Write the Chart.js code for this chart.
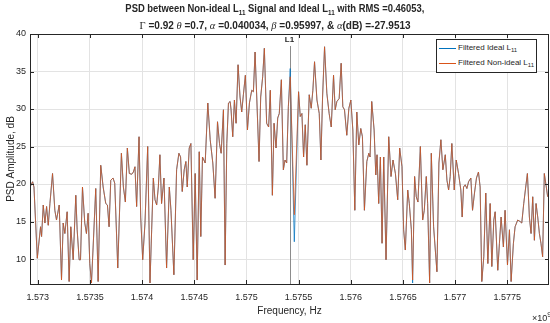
<!DOCTYPE html>
<html>
<head>
<meta charset="utf-8">
<script src="https://cdn.jsdelivr.net/npm/chart.js@4.4.0/dist/chart.umd.min.js"></script>
<style>
  body { margin: 0; background: #fff; }
  #page { position: relative; width: 550px; height: 323px; overflow: hidden;
          font-family: "Liberation Sans", Arial, sans-serif; color: #262626; }
  #psdChart { position: absolute; left: 0; top: 0; }
  .title { position: absolute; left: 0; width: 550px; text-align: center;
           font-weight: bold; font-size: 10.5px; line-height: 13px; white-space: nowrap; }
  .title span.fit { display: inline-block; transform-origin: center; }
  .title sub { font-size: 7px; vertical-align: -3px; line-height: 0; }
  .gk { font-family: "Liberation Serif", "DejaVu Serif", serif; font-weight: normal; font-size: 11px; }
  #legend { position: absolute; left: 436px; top: 39px; width: 99px; height: 32px;
            border: 1px solid #262626; background: #fff; font-size: 8px; }
  #legend .row { position: absolute; left: 2px; height: 12px; white-space: nowrap; }
  #legend .swatch { position: absolute; left: 0; top: 6px; width: 17px; height: 1px; }
  #legend .txt { position: absolute; left: 19px; top: 0; line-height: 12px; }
  #legend sub { font-size: 6px; vertical-align: -2px; line-height: 0; }
  #expo { position: absolute; left: 532px; top: 313px; font-size: 9px; white-space: nowrap; }
  #expo sup { font-size: 7px; vertical-align: 4px; line-height: 0; }
</style>
</head>
<body>
<div id="page">
  <canvas id="psdChart" width="550" height="323"></canvas>
  <div class="title" style="top:2px"><span class="fit" data-w="299">PSD between Non-ideal L<sub>11</sub> Signal and Ideal L<sub>11</sub> with RMS =0.46053,</span></div>
  <div class="title" style="top:19px"><span class="fit" data-w="271"><span class="gk">&Gamma;</span> =0.92 <i class="gk">&theta;</i> =0.7, <i class="gk">&alpha;</i> =0.040034, <i class="gk">&beta;</i> =0.95997, &amp; <i class="gk">&alpha;</i>(dB) =-27.9513</span></div>
  <div id="legend">
    <div class="row" style="top:2px"><div class="swatch" style="background:#0072BD"></div><div class="txt">Filtered Ideal L<sub>11</sub></div></div>
    <div class="row" style="top:17px"><div class="swatch" style="background:#D95319"></div><div class="txt">Filtered Non-ideal L<sub>11</sub></div></div>
  </div>
  <div id="expo">&times;10<sup>9</sup></div>
</div>
<script>
// frequency in MHz, PSD in dB
const freqMHz = [
  1572.926, 1572.951, 1572.964, 1572.996, 1573.027, 1573.037, 1573.053, 1573.069, 1573.085, 1573.101,
  1573.117, 1573.142, 1573.164, 1573.180, 1573.206, 1573.228, 1573.244, 1573.260, 1573.282, 1573.301,
  1573.317, 1573.340, 1573.365, 1573.378, 1573.397, 1573.410, 1573.429, 1573.451, 1573.467, 1573.483,
  1573.499, 1573.515, 1573.531, 1573.556, 1573.579, 1573.604, 1573.627, 1573.652, 1573.668, 1573.684,
  1573.700, 1573.722, 1573.738, 1573.767, 1573.802, 1573.821, 1573.840, 1573.859, 1573.878, 1573.901,
  1573.917, 1573.932, 1573.948, 1573.971, 1573.987, 1574.006, 1574.028, 1574.054, 1574.076, 1574.092,
  1574.108, 1574.124, 1574.140, 1574.156, 1574.171, 1574.187, 1574.210, 1574.235, 1574.261, 1574.277,
  1574.305, 1574.331, 1574.353, 1574.369, 1574.385, 1574.404, 1574.420, 1574.433, 1574.452, 1574.468,
  1574.490, 1574.509, 1574.528, 1574.548, 1574.563, 1574.579, 1574.605, 1574.630, 1574.653, 1574.678,
  1574.700, 1574.723, 1574.742, 1574.758, 1574.780, 1574.796, 1574.812, 1574.828, 1574.844, 1574.853,
  1574.869, 1574.885, 1574.901, 1574.920, 1574.939, 1574.955, 1574.971, 1574.990, 1575.010, 1575.029,
  1575.051, 1575.067, 1575.083, 1575.099, 1575.121, 1575.137, 1575.156, 1575.172, 1575.194, 1575.213,
  1575.229, 1575.249, 1575.265, 1575.284, 1575.300, 1575.315, 1575.335, 1575.354, 1575.370, 1575.386,
  1575.402, 1575.420, 1575.459, 1575.500, 1575.516, 1575.532, 1575.548, 1575.564, 1575.580, 1575.602,
  1575.621, 1575.637, 1575.653, 1575.676, 1575.698, 1575.714, 1575.730, 1575.749, 1575.771, 1575.793,
  1575.813, 1575.835, 1575.851, 1575.867, 1575.889, 1575.908, 1575.924, 1575.940, 1575.962, 1575.982,
  1576.001, 1576.020, 1576.039, 1576.058, 1576.077, 1576.096, 1576.112, 1576.131, 1576.154, 1576.173,
  1576.185, 1576.201, 1576.224, 1576.240, 1576.252, 1576.268, 1576.284, 1576.300, 1576.316, 1576.338,
  1576.364, 1576.386, 1576.405, 1576.428, 1576.450, 1576.469, 1576.491, 1576.507, 1576.523, 1576.546,
  1576.561, 1576.581, 1576.593, 1576.612, 1576.628, 1576.644, 1576.667, 1576.689, 1576.705, 1576.724,
  1576.737, 1576.756, 1576.772, 1576.794, 1576.826, 1576.845, 1576.864, 1576.883, 1576.906, 1576.922,
  1576.938, 1576.953, 1576.969, 1576.992, 1577.011, 1577.033, 1577.055, 1577.068, 1577.081, 1577.097,
  1577.113, 1577.129, 1577.151, 1577.167, 1577.186, 1577.205, 1577.224, 1577.240, 1577.256, 1577.275,
  1577.294, 1577.314, 1577.336, 1577.352, 1577.371, 1577.384, 1577.409, 1577.425, 1577.441, 1577.463,
  1577.479, 1577.502, 1577.521, 1577.537, 1577.559, 1577.575, 1577.600, 1577.623, 1577.639, 1577.658,
  1577.677, 1577.693, 1577.712, 1577.728, 1577.744, 1577.760, 1577.776, 1577.792, 1577.808, 1577.823,
  1577.839, 1577.855, 1577.874, 1577.887
];

const nonIdealDb = [
  19.6, 20.3, 19.6, 10.1, 14.3, 13.0, 17.2, 14.8, 17.0, 14.5,
  17.4, 21.4, 16.5, 15.2, 17.2, 7.2, 14.8, 13.4, 16.3, 7.0,
  14.3, 9.9, 18.5, 13.9, 9.9, 9.9, 19.6, 14.8, 13.4, 16.1,
  9.4, 6.8, 11.6, 19.4, 7.0, 22.5, 19.6, 17.4, 17.2, 14.3,
  20.5, 20.8, 20.1, 8.8, 24.1, 19.6, 17.6, 24.8, 21.4, 21.3,
  21.6, 22.3, 17.0, 26.3, 15.6, 9.9, 14.8, 25.0, 6.8, 13.9,
  20.8, 17.9, 17.2, 19.6, 23.9, 17.4, 20.8, 8.8, 19.6, 16.5,
  7.9, 21.9, 24.1, 23.6, 19.0, 21.9, 23.0, 19.6, 24.8, 25.4,
  9.9, 21.4, 7.2, 24.3, 13.0, 23.6, 22.8, 30.8, 25.9, 22.8,
  18.1, 28.3, 25.4, 24.1, 29.9, 9.2, 25.4, 30.8, 31.0, 29.9,
  26.3, 31.2, 28.1, 35.9, 31.6, 29.6, 31.9, 34.5, 27.2, 30.8,
  32.5, 32.3, 37.6, 31.6, 23.0, 31.6, 34.3, 38.1, 28.1, 27.6,
  32.5, 18.5, 28.1, 24.8, 28.8, 29.4, 33.9, 21.9, 23.2, 22.8,
  30.3, 34.3, 15.9, 32.3, 29.0, 29.4, 23.6, 27.9, 22.5, 31.9,
  30.1, 32.5, 36.3, 31.2, 29.4, 23.2, 31.6, 38.3, 32.1, 29.4,
  27.6, 34.5, 29.9, 31.0, 31.4, 36.1, 30.3, 29.9, 26.5, 30.1,
  31.2, 27.2, 16.5, 29.6, 25.2, 27.4, 26.3, 16.5, 23.0, 24.1,
  23.6, 31.0, 27.2, 21.2, 23.9, 17.4, 23.6, 12.1, 23.6, 9.9,
  26.3, 21.0, 23.2, 21.4, 17.9, 24.8, 22.3, 13.9, 11.2, 19.2,
  17.4, 13.9, 7.2, 21.0, 18.3, 17.6, 25.0, 15.2, 16.5, 21.0,
  17.4, 6.8, 24.1, 14.3, 8.3, 22.8, 25.9, 21.9, 23.9, 20.5,
  19.2, 21.0, 25.4, 19.2, 23.2, 21.4, 19.2, 15.6, 19.6, 19.9,
  19.4, 20.3, 20.8, 16.5, 18.8, 20.8, 21.6, 19.6, 7.0, 10.3,
  18.8, 9.4, 17.4, 9.0, 15.2, 16.3, 8.5, 12.1, 15.6, 11.6,
  16.5, 9.2, 13.9, 7.0, 12.1, 14.3, 15.2, 15.0, 14.8, 17.4,
  19.6, 21.4, 15.6, 13.4, 18.3, 12.5, 17.4, 15.6, 13.4, 12.1,
  10.3, 21.4, 19.6, 18.3
];

const idealDb = [
  19.6, 20.3, 19.6, 10.1, 14.3, 13.0, 17.2, 14.8, 17.0, 14.5,
  17.4, 21.4, 16.5, 15.2, 17.2, 7.2, 14.8, 13.4, 16.3, 7.0,
  14.3, 9.9, 18.5, 13.9, 9.9, 9.9, 19.6, 14.8, 13.4, 16.1,
  9.4, 6.8, 11.6, 19.4, 7.0, 22.5, 19.6, 17.4, 17.2, 14.3,
  20.5, 20.8, 20.1, 8.8, 24.1, 19.6, 17.6, 24.8, 21.4, 21.3,
  21.6, 22.3, 17.0, 26.3, 15.6, 9.9, 14.8, 25.0, 6.8, 13.9,
  20.8, 17.9, 17.2, 19.6, 23.9, 17.4, 20.8, 8.8, 19.6, 16.5,
  7.9, 21.9, 24.1, 23.6, 19.0, 21.9, 23.0, 19.6, 24.8, 25.4,
  9.9, 21.4, 7.2, 24.3, 13.0, 23.6, 22.8, 30.8, 25.9, 22.8,
  18.1, 28.3, 25.4, 24.1, 29.9, 9.2, 25.4, 30.8, 31.0, 29.9,
  26.3, 31.2, 28.1, 35.9, 31.6, 29.6, 31.9, 34.5, 27.2, 30.8,
  32.5, 32.3, 37.6, 31.6, 23.0, 31.6, 34.3, 38.1, 28.1, 27.6,
  32.5, 18.5, 28.1, 24.8, 28.8, 29.4, 33.9, 21.9, 23.2, 22.8,
  30.3, 35.4, 12.3, 32.3, 29.0, 29.4, 23.6, 27.9, 22.5, 31.9,
  30.1, 32.5, 36.3, 31.2, 29.4, 23.2, 31.6, 38.3, 32.1, 29.4,
  27.6, 34.5, 29.9, 31.0, 31.4, 36.1, 30.3, 29.9, 26.5, 30.1,
  31.2, 27.2, 16.5, 29.6, 25.2, 27.4, 26.3, 16.5, 23.0, 24.1,
  23.6, 31.0, 27.2, 21.2, 23.9, 17.4, 23.6, 12.1, 23.6, 9.9,
  26.3, 21.0, 23.2, 21.4, 17.9, 24.8, 22.3, 13.9, 11.2, 19.2,
  17.4, 13.9, 6.8, 21.0, 18.3, 17.6, 25.0, 15.2, 16.5, 21.0,
  17.4, 6.8, 24.1, 14.3, 8.3, 22.8, 25.9, 21.9, 23.9, 20.5,
  19.2, 21.0, 25.4, 19.2, 23.2, 21.4, 19.2, 15.6, 19.6, 19.9,
  19.4, 20.3, 20.8, 16.5, 18.8, 20.8, 21.6, 19.6, 7.0, 10.3,
  18.8, 9.4, 17.4, 9.0, 15.2, 16.3, 8.5, 12.1, 15.6, 11.6,
  16.5, 9.2, 13.9, 7.0, 12.1, 14.3, 15.2, 15.0, 14.8, 17.4,
  19.6, 21.4, 15.6, 13.4, 18.3, 12.5, 17.4, 15.6, 13.4, 12.1,
  10.3, 21.4, 19.6, 18.3
];

const xTicks = [1573, 1573.5, 1574, 1574.5, 1575, 1575.5, 1576, 1576.5, 1577, 1577.5];
const xTickLabels = ["1.573", "1.5735", "1.574", "1.5745", "1.575", "1.5755", "1.576", "1.5765", "1.577", "1.5775"];
const yTicks = [10, 15, 20, 25, 30, 35, 40];
const l1MHz = 1575.42;

const axisColor = "#262626";
const gridColor = "#e3e3e3";

// box around the axes plus inward tick marks, like matlab "box on"
const axesBox = {
  id: "axesBox",
  afterDatasetsDraw(chart) {
    const { ctx, chartArea: a, scales } = chart;
    ctx.save();
    ctx.strokeStyle = axisColor;
    ctx.lineWidth = 1;
    ctx.beginPath();
    scales.x.ticks.forEach(t => {
      const px = Math.round(scales.x.getPixelForValue(t.value)) + 0.5;
      ctx.moveTo(px, a.bottom); ctx.lineTo(px, a.bottom - 4);
      ctx.moveTo(px, a.top); ctx.lineTo(px, a.top + 4);
    });
    scales.y.ticks.forEach(t => {
      const py = Math.round(scales.y.getPixelForValue(t.value)) + 0.5;
      ctx.moveTo(a.left, py); ctx.lineTo(a.left + 4, py);
      ctx.moveTo(a.right, py); ctx.lineTo(a.right - 4, py);
    });
    ctx.stroke();
    ctx.strokeRect(Math.round(a.left) + 0.5, Math.round(a.top) + 0.5,
                   Math.round(a.right - a.left) - 1, Math.round(a.bottom - a.top));
    ctx.restore();
  }
};

// L1 carrier marker
const l1Marker = {
  id: "l1Marker",
  beforeDatasetsDraw(chart) {
    const { ctx, chartArea: a, scales } = chart;
    const px = Math.round(scales.x.getPixelForValue(l1MHz)) + 0.5;
    ctx.save();
    ctx.strokeStyle = "#8c8c8c";
    ctx.lineWidth = 1;
    ctx.beginPath();
    ctx.moveTo(px, a.top + 12);
    ctx.lineTo(px, a.bottom);
    ctx.stroke();
    ctx.fillStyle = axisColor;
    ctx.font = "bold 8px 'Liberation Sans', Arial, sans-serif";
    ctx.textAlign = "center";
    ctx.textBaseline = "middle";
    ctx.fillText("L1", px - 1, a.top + 6);
    ctx.restore();
  }
};

const datasets = [
  {
    label: "Filtered Ideal L11",
    data: freqMHz.map((f, i) => ({ x: f, y: idealDb[i] })),
    borderColor: "#0072BD",
    borderWidth: 0.75,
    pointRadius: 0,
    order: 1
  },
  {
    label: "Filtered Non-ideal L11",
    data: freqMHz.map((f, i) => ({ x: f, y: nonIdealDb[i] })),
    borderColor: "#D95319",
    borderWidth: 0.75,
    pointRadius: 0,
    order: 0
  }
];

const tickFont = { family: "'Liberation Sans', Arial, sans-serif", size: 9 };
const titleFont = { family: "'Liberation Sans', Arial, sans-serif", size: 10 };

new Chart(document.getElementById("psdChart"), {
  type: "line",
  data: { datasets },
  options: {
    responsive: false,
    animation: false,
    layout: { padding: { top: 34, right: 1, left: 0, bottom: 0 } },
    plugins: { legend: { display: false }, title: { display: false }, tooltip: { enabled: false } },
    scales: {
      x: {
        type: "linear",
        min: 1572.926,
        max: 1577.9,
        afterFit(s) { s.height = 39; },
        afterBuildTicks(s) { s.ticks = xTicks.map(v => ({ value: v })); },
        grid: { color: gridColor, drawTicks: false },
        border: { display: false },
        ticks: {
          color: axisColor, font: tickFont, padding: 8, maxRotation: 0, autoSkip: false,
          callback: (v) => xTickLabels[xTicks.indexOf(v)]
        },
        title: { display: true, text: "Frequency, Hz", color: axisColor, font: titleFont, padding: { top: 0, bottom: 6 } }
      },
      y: {
        min: 6.67,
        max: 40,
        afterFit(s) { s.width = 30; },
        afterBuildTicks(s) { s.ticks = yTicks.map(v => ({ value: v })); },
        grid: { color: gridColor, drawTicks: false },
        border: { display: false },
        ticks: { color: axisColor, font: tickFont, padding: 4 },
        title: { display: true, text: "PSD Amplitude, dB", color: axisColor, font: titleFont, padding: { top: 5, bottom: 0 } }
      }
    }
  },
  plugins: [l1Marker, axesBox]
});

// squeeze the title lines to the width they have in the figure
document.querySelectorAll(".fit").forEach(el => {
  const w = el.getBoundingClientRect().width;
  el.style.transform = `scaleX(${el.dataset.w / w})`;
});
</script>
</body>
</html>
